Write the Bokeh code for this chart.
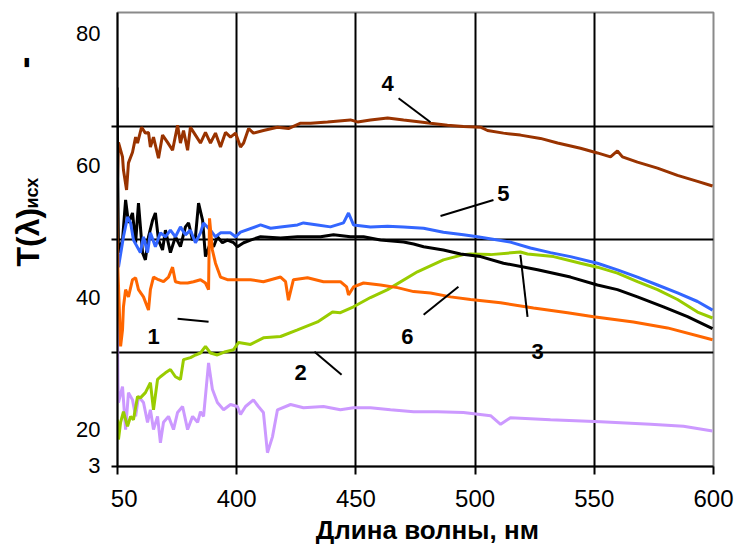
import numpy as np
from bokeh.plotting import figure
from bokeh.models import Range1d, FixedTicker
from bokeh.layouts import row, column
from bokeh.core.properties import value
from bokeh.embed import file_html
from bokeh.resources import INLINE

# ---------------- data ----------------
# curve 1 (orange)
x1 = [349.6, 350.2, 351.3, 352.1, 352.5, 353.4, 354.6, 356.3, 357.6, 358.8, 360.9, 363.0, 363.8,
      365.1, 367.2, 369.3, 371.4, 373.1, 374.3, 376.4, 379.4, 381.9, 384.8, 386.9, 388.2, 388.6,
      389.8, 391.1, 393.2, 396.1, 400.3, 405.8, 411.2, 418.4, 420.5, 421.7, 423.8, 429.7, 436.4,
      443.5, 446.1, 446.9, 449.0, 453.2, 460.3, 467.4, 474.2, 481.3, 489.7, 498.1, 510.7, 524.5,
      538.8, 549.7, 566.4, 580.7, 599.6]
y1 = [55.2, 44.0, 32.6, 35.1, 38.6, 41.2, 40.1, 42.7, 43.0, 41.2, 40.1, 38.1, 41.2,
      43.1, 42.7, 42.4, 43.1, 44.6, 42.4, 42.2, 42.2, 42.4, 42.7, 42.2, 41.2, 52.0,
      47.2, 45.2, 43.1, 42.7, 42.7, 42.7, 42.4, 43.1, 42.4, 39.6, 42.7, 43.0, 42.4,
      42.4, 41.6, 40.4, 41.6, 42.2, 41.9, 41.5, 40.9, 40.7, 40.1, 39.7, 39.2, 38.4,
      37.7, 37.1, 36.3, 35.4, 33.6]

# curve 2 (lavender)
x2 = [349.8, 350.2, 350.4, 352.1, 353.4, 354.6, 356.3, 357.6, 358.8, 360.9, 362.6, 363.8, 365.1,
      366.8, 368.0, 369.3, 371.4, 373.5, 375.2, 377.3, 379.4, 381.5, 383.6, 384.8, 386.1, 388.2,
      389.8, 391.9, 394.5, 397.4, 400.3, 401.6, 403.7, 407.0, 409.1, 411.2, 412.9, 415.0, 417.1,
      422.6, 428.0, 436.4, 443.5, 449.0, 456.1, 464.5, 474.2, 484.2, 495.1, 506.5, 510.7, 514.8,
      531.6, 552.6, 573.6, 587.4, 599.6]
y2 = [44.6, 27.1, 24.1, 26.5, 20.0, 25.6, 24.5, 22.0, 25.0, 24.1, 21.1, 23.0, 20.0,
      22.0, 18.0, 21.1, 22.0, 20.0, 22.6, 23.5, 20.0, 22.0, 21.1, 22.7, 22.0, 30.1,
      26.1, 24.1, 23.0, 23.8, 23.5, 22.3, 23.5, 24.5, 23.5, 22.6, 16.5, 18.9, 23.0,
      23.8, 23.3, 23.5, 23.0, 23.3, 23.3, 23.0, 22.7, 22.7, 22.6, 22.1, 20.8, 21.8,
      21.5, 21.2, 20.8, 20.5, 19.8]

# curve 3 (black)
x3 = [349.8, 350.4, 352.1, 353.4, 354.6, 356.3, 357.6, 358.8, 360.5, 361.7, 363.0, 364.7, 365.9,
      367.2, 368.9, 370.1, 372.2, 374.3, 376.4, 378.5, 379.8, 381.5, 382.7, 384.0, 385.7, 386.9,
      389.0, 390.3, 391.9, 394.0, 396.1, 398.7, 400.3, 402.9, 405.8, 410.0, 418.4, 425.5, 435.2,
      440.6, 447.7, 453.2, 460.3, 470.0, 474.2, 478.4, 486.7, 493.9, 502.3, 511.9, 526.2, 540.0,
      551.3, 559.7, 568.1, 579.0, 589.1, 599.6]
y3 = [71.8, 46.8, 48.7, 54.8, 51.3, 52.8, 48.3, 54.3, 46.8, 45.7, 49.2, 51.7, 52.8,
      48.7, 47.2, 50.2, 46.8, 49.2, 47.7, 50.7, 51.3, 48.7, 49.2, 54.3, 51.7, 46.2,
      48.3, 47.7, 49.2, 48.3, 48.7, 48.3, 47.7, 48.3, 48.7, 49.2, 49.0, 49.2, 49.2,
      49.5, 49.2, 49.2, 48.7, 48.4, 48.1, 47.7, 47.2, 46.6, 46.2, 45.2, 44.2, 43.1,
      41.9, 41.2, 40.1, 38.6, 37.1, 35.3]

# curve 4 (brown)
x4 = [350.0, 350.4, 352.1, 352.5, 353.8, 354.6, 356.3, 357.6, 358.4, 360.1, 361.7, 363.0, 363.8,
      365.1, 367.2, 368.9, 371.0, 373.1, 375.2, 376.4, 377.7, 379.4, 380.6, 382.7, 384.8, 386.9,
      389.0, 391.1, 393.2, 395.3, 397.4, 399.5, 401.6, 402.9, 405.0, 407.0, 411.2, 417.1, 421.7,
      426.8, 431.0, 438.1, 447.7, 450.7, 456.1, 463.3, 470.0, 477.1, 481.3, 488.4, 495.1, 502.3,
      505.2, 511.9, 519.0, 527.4, 534.6, 544.2, 551.3, 556.8, 559.7, 561.8, 568.1, 576.5, 584.9,
      593.3, 599.6]
y4 = [57.8, 63.5, 61.3, 59.3, 56.3, 60.4, 62.0, 64.3, 63.4, 65.8, 64.9, 65.0, 62.8,
      64.3, 61.1, 64.6, 63.5, 62.3, 66.1, 63.4, 65.3, 62.3, 65.8, 64.6, 63.4, 65.0,
      63.4, 64.9, 62.8, 65.0, 64.3, 64.9, 62.8, 63.4, 65.6, 64.9, 65.3, 65.8, 65.6,
      66.4, 66.4, 66.6, 66.9, 66.6, 66.9, 67.2, 66.9, 66.6, 66.4, 66.1, 65.9, 65.8,
      65.3, 64.9, 64.6, 64.1, 63.4, 62.6, 61.9, 61.3, 62.2, 61.3, 60.5, 59.6, 58.5,
      57.6, 56.9]

# curve 5 (blue)
x5 = [350.4, 352.5, 354.2, 355.5, 356.7, 359.6, 360.9, 362.6, 363.8, 365.9, 368.0, 370.1, 372.2,
      374.3, 376.4, 378.5, 380.6, 382.7, 384.8, 386.1, 389.0, 391.1, 393.2, 397.4, 399.5, 401.6,
      410.0, 414.2, 418.4, 425.5, 428.0, 433.9, 439.3, 444.8, 446.9, 449.0, 456.1, 463.3, 470.0,
      478.4, 486.7, 495.1, 501.0, 514.8, 523.2, 531.6, 540.0, 551.3, 559.7, 568.1, 576.5, 584.9,
      593.3, 599.6]
y5 = [44.6, 49.2, 52.2, 51.3, 48.7, 46.8, 49.2, 46.8, 49.8, 47.7, 49.8, 49.2, 50.2,
      49.2, 50.7, 49.5, 50.2, 48.3, 49.8, 51.3, 50.2, 49.2, 49.8, 49.8, 49.2, 49.9,
      51.0, 50.5, 50.7, 51.0, 51.3, 51.0, 50.7, 51.3, 52.8, 51.0, 50.7, 50.8, 50.7,
      50.5, 49.9, 49.5, 49.2, 48.4, 47.5, 46.8, 46.2, 45.2, 44.2, 43.1, 41.9, 40.7,
      39.4, 38.1]

# curve 6 (green)
x6 = [350.0, 350.4, 351.3, 352.5, 354.2, 355.5, 356.7, 358.4, 359.6, 361.7, 363.8, 365.1, 366.8,
      368.0, 370.1, 372.2, 374.3, 376.4, 377.7, 380.6, 382.7, 384.8, 386.9, 389.0, 391.9, 395.3,
      398.7, 400.8, 405.8, 411.2, 418.4, 425.5, 433.9, 440.2, 443.5, 449.0, 456.1, 463.3, 475.8,
      486.7, 495.1, 498.1, 506.5, 519.0, 522.0, 532.9, 544.2, 551.3, 559.7, 568.1, 576.5, 584.9,
      593.3, 599.6]
y6 = [21.5, 18.5, 21.1, 22.7, 20.5, 22.0, 21.5, 25.0, 24.8, 25.6, 27.1, 23.0, 27.6,
      28.0, 28.6, 29.1, 28.0, 27.6, 30.6, 30.9, 31.3, 31.6, 32.6, 31.6, 31.3, 31.8,
      32.1, 33.2, 32.9, 33.9, 34.1, 35.1, 36.3, 37.8, 37.7, 38.6, 40.0, 41.2, 43.9,
      45.7, 46.5, 46.6, 46.5, 46.9, 46.6, 46.2, 45.2, 44.6, 43.7, 42.4, 41.2, 39.7,
      37.8, 36.9]

x_ticks = [350, 400, 450, 500, 550, 600]
x_tick_overrides = {350: "\u200750"}
y_tick_values = [14.5, 20, 40, 60, 80]
y_tick_overrides = {14.5: "3"}
y_grid = [31.64, 48.72, 65.95]
x_grid = [400, 450, 500, 550]

# curve number labels and leader lines
lab_text = ["1", "2", "3", "4", "5", "6"]
lab_x = [365.1, 426.8, 526.2, 463.3, 511.9, 471.6]
lab_y = [34.06, 28.62, 31.79, 72.45, 55.82, 34.06]
lead_x0 = [375.2, 432.6, 519.0, 467.9, 485.5, 478.4]
lead_y0 = [36.78, 31.79, 46.45, 70.18, 52.35, 37.38]
lead_x1 = [388.2, 444.0, 522.0, 481.3, 507.7, 493.0]
lead_y1 = [36.33, 28.32, 37.08, 66.55, 54.76, 41.62]

x_title = "Длина волны, нм"
y_title_main = "T(λ)"
y_title_sub = "исх"

FONT = "Liberation Sans"

# ---------------- main plot ----------------
p = figure(width=679, height=514, output_backend="svg", toolbar_location=None,
           x_range=Range1d(350, 600), y_range=Range1d(14.41, 83.17),
           min_border_left=57, min_border_right=26, min_border_top=12, min_border_bottom=47)
p.background_fill_color = "white"
p.border_fill_color = "white"
p.outline_line_color = "#8a8a8a"
p.outline_line_width = 2

p.xaxis.ticker = FixedTicker(ticks=x_ticks)
p.xaxis.major_label_overrides = x_tick_overrides
p.xaxis.axis_line_width = 2
p.xaxis.axis_line_color = "black"
p.xaxis.major_tick_out = 8
p.xaxis.major_tick_in = 0
p.xaxis.major_tick_line_width = 2
p.xaxis.minor_tick_line_color = None
p.xaxis.major_label_standoff = 10
p.xaxis.major_label_text_font = FONT
p.xaxis.major_label_text_font_size = "24px"
p.xaxis.major_label_text_color = "black"

p.yaxis.ticker = FixedTicker(ticks=y_tick_values, minor_ticks=y_grid + [14.45])
p.yaxis.major_label_overrides = y_tick_overrides
p.yaxis.axis_line_width = 2
p.yaxis.axis_line_color = "black"
p.yaxis.major_tick_line_color = None
p.yaxis.major_tick_out = 0
p.yaxis.major_tick_in = 0
p.yaxis.minor_tick_out = 6
p.yaxis.minor_tick_in = 0
p.yaxis.minor_tick_line_width = 2
p.yaxis.minor_tick_line_color = "black"
p.yaxis.major_label_standoff = 11
p.yaxis.major_label_text_font = FONT
p.yaxis.major_label_text_font_size = "22px"
p.yaxis.major_label_text_color = "black"

p.xgrid.ticker = FixedTicker(ticks=x_grid)
p.ygrid.ticker = FixedTicker(ticks=y_grid)
for g in (p.xgrid, p.ygrid):
    g.grid_line_color = "black"
    g.grid_line_width = 2

LW = 3
p.line(x2, y2, line_color="#CC99FF", line_width=LW)
p.line(x4, y4, line_color="#993300", line_width=LW)
p.line(x6, y6, line_color="#99CC00", line_width=LW)
p.line(x3, y3, line_color="black", line_width=LW)
p.line(x5, y5, line_color="#3366FF", line_width=LW)
p.line(x1, y1, line_color="#FF6600", line_width=LW)

p.segment(lead_x0, lead_y0, lead_x1, lead_y1, line_color="black", line_width=2)
p.text(lab_x, lab_y, text=lab_text, text_font=value(FONT), text_font_style="bold",
       text_font_size=value("22px"), text_align="center", text_baseline="middle",
       text_color="black")

# ---------------- left strip: y-axis title ----------------
pl = figure(width=60, height=544, output_backend="svg", toolbar_location=None,
            x_range=Range1d(0, 60), y_range=Range1d(0, 544), x_axis_type=None, y_axis_type=None,
            min_border=0)
pl.outline_line_color = None
pl.grid.visible = False
pl.text([27], [278], text=[y_title_main], angle=np.pi / 2, text_font=value(FONT),
        text_font_style="bold", text_font_size=value("32px"), text_align="left",
        text_baseline="alphabetic", text_color="black")
pl.text([31], [336], text=[y_title_sub], angle=np.pi / 2, text_font=value(FONT),
        text_font_style="bold", text_font_size=value("18px"), text_align="left",
        text_baseline="alphabetic", text_color="black")
pl.text([22], [482], text=["-"], angle=np.pi / 2, text_font=value(FONT),
        text_font_style="bold", text_font_size=value("36px"), text_align="center",
        text_baseline="middle", text_color="black")

# ---------------- bottom strip: x-axis title ----------------
pb = figure(width=679, height=30, output_backend="svg", toolbar_location=None,
            x_range=Range1d(0, 679), y_range=Range1d(0, 30), x_axis_type=None, y_axis_type=None,
            min_border=0)
pb.outline_line_color = None
pb.grid.visible = False
pb.text([353], [15], text=[x_title], text_font=value(FONT), text_font_style="bold",
        text_font_size=value("26px"), text_align="center", text_baseline="middle",
        text_color="black")

layout = row(pl, column(p, pb, spacing=0), spacing=0)
open("out.html", "w").write(file_html(layout, INLINE))
